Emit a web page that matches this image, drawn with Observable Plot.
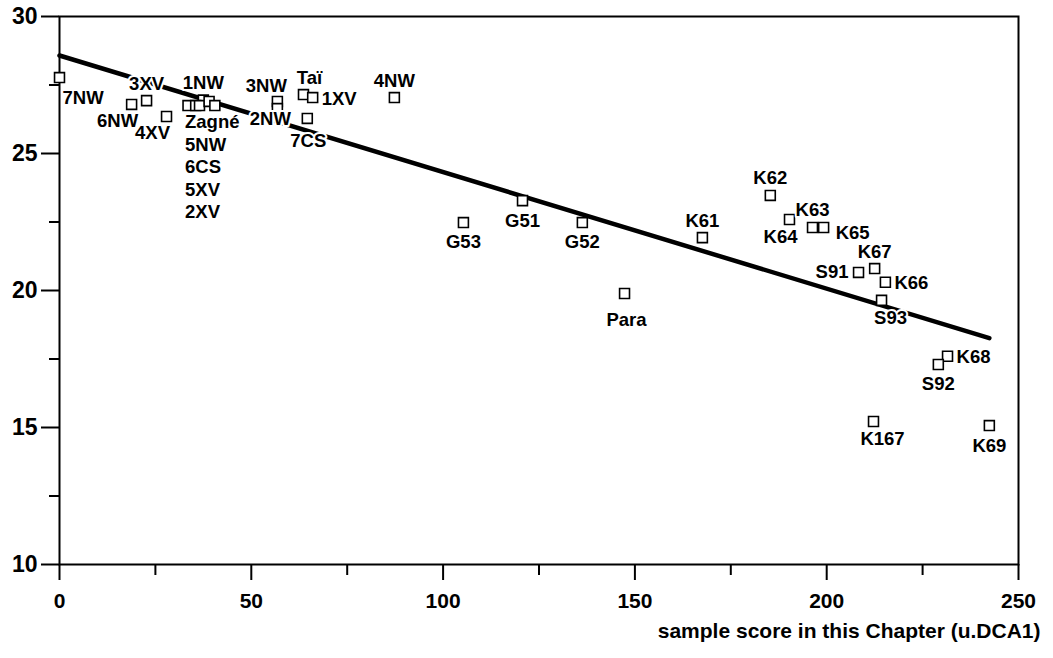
<!DOCTYPE html>
<html><head><meta charset="utf-8">
<script src="https://cdn.jsdelivr.net/npm/d3@7"></script>
<script src="https://cdn.jsdelivr.net/npm/@observablehq/plot@0.6"></script>
<style>body{margin:0;background:#fff}#chart svg{display:block}</style>
</head><body><div id="chart"></div>
<script>
const samples = ["7NW","6NW","3XV","4XV","1NW","Zagné","5NW","6CS","5XV","2XV","3NW","2NW","Taï","1XV","7CS","4NW","G53","G51","G52","Para","K61","K62","K64","K63","K65","S91","K67","K66","S93","K68","S92","K167","K69"];
const scores = [0,18.8,22.7,27.9,37.5,33.5,35.5,36.5,39,40.5,56.8,56.8,63.6,66,64.6,87.3,105.3,120.7,136.3,147.3,167.6,185.3,190.3,196.3,199.2,208.3,212.5,215.3,214.3,231.5,229.1,212.2,242.4];
const values = [27.77,26.79,26.93,26.35,26.95,26.75,26.75,26.75,26.9,26.75,26.9,26.64,27.15,27.04,26.28,27.04,22.48,23.28,22.48,19.89,21.93,23.47,22.59,22.3,22.3,20.66,20.8,20.3,19.64,17.6,17.3,15.22,15.07];
const labelSide = ["SE","SW","N","SW","N","stack","stack","stack","stack","stack","NW","SWx","NE","E","Sx","N","S","S","S","SS","N","N","SSW","N","ESE","W","N","E","SSE","E","S","SSE","S"];
const xTicks = [0,50,100,150,200,250];
const xMinorTicks = [25,75,125,175,225];
const yTicks = [10,15,20,25,30];
const yMinorTicks = [12.5,17.5,22.5,27.5];
const xTitle = "sample score in this Chapter (u.DCA1)";

const data = samples.map((s,i) => ({sample:s, score:scores[i], value:values[i], side:labelSide[i]}));

const place = {
  N:{dx:0,dy:-17,a:"middle"}, NE:{dx:6,dy:-17,a:"middle"}, NW:{dx:-11,dy:-15,a:"middle"},
  S:{dx:0,dy:20,a:"middle"}, Sx:{dx:1,dy:23,a:"middle"}, SS:{dx:2,dy:27,a:"middle"}, SSE:{dx:9,dy:18,a:"middle"},
  SSW:{dx:-9,dy:18,a:"middle"}, SW:{dx:-14,dy:17,a:"middle"}, SWx:{dx:-7,dy:11,a:"middle"}, SE:{dx:3,dy:20,a:"start"},
  E:{dx:9,dy:1,a:"start"}, ESE:{dx:12,dy:6,a:"start"}, W:{dx:-10,dy:0,a:"end"}
};
const font = "'Liberation Sans', Arial, Helvetica, sans-serif";
const labelOpts = {fontSize:18.5, fontWeight:"bold", fill:"black", stroke:"white", strokeWidth:4, paintOrder:"stroke", fontFamily:font};

const stackItems = data.filter(d => d.side === "stack");
const stackAnchor = stackItems[0];
const labelMarks = data.map(d => {
  if (d.side === "stack") {
    const k = stackItems.indexOf(d);
    return Plot.text([d], {x: () => stackAnchor.score, y: () => stackAnchor.value, text:"sample", dx:-3, dy:17 + 22.5*k, textAnchor:"start", ...labelOpts});
  }
  const p = place[d.side];
  return Plot.text([d], {x:"score", y:"value", text:"sample", dx:p.dx, dy:p.dy, textAnchor:p.a, ...labelOpts});
});

const chart = Plot.plot({
  width: 1053, height: 658,
  marginTop: 16, marginRight: 35, marginBottom: 94, marginLeft: 59,
  style: {fontFamily: font, background: "white"},
  x: {domain:[0,250], axis:null},
  y: {domain:[10,30], axis:null},
  marks: [
    Plot.frame({stroke:"black", strokeWidth:2}),
    Plot.axisY(yTicks, {tickSize:18, tickPadding:4, fontSize:23, fontWeight:"bold", strokeWidth:2, fontFamily:font, label:null}),
    Plot.axisY(yMinorTicks, {tickSize:10, tickFormat:() => "", strokeWidth:2, label:null}),
    Plot.axisX(xTicks, {tickSize:16, tickPadding:13, fontSize:21, fontWeight:"bold", strokeWidth:2, fontFamily:font, label:null}),
    Plot.axisX(xMinorTicks, {tickSize:11, tickFormat:() => "", strokeWidth:2, label:null}),
    Plot.linearRegressionY(data, {x:"score", y:"value", stroke:"black", strokeWidth:4.5, ci:0}),
    Plot.dot(data, {x:"score", y:"value", symbol:"square", r:5.6, stroke:"black", strokeWidth:1.6, fill:"white"}),
    ...labelMarks,
    Plot.text([xTitle], {text: d => d, frameAnchor:"bottom-right", dx:22, dy:73, textAnchor:"end", fontSize:21, letterSpacing:"0.6px", fontWeight:"bold", fontFamily:font, fill:"black"})
  ]
});
document.getElementById("chart").appendChild(chart);
</script>
</body></html>
